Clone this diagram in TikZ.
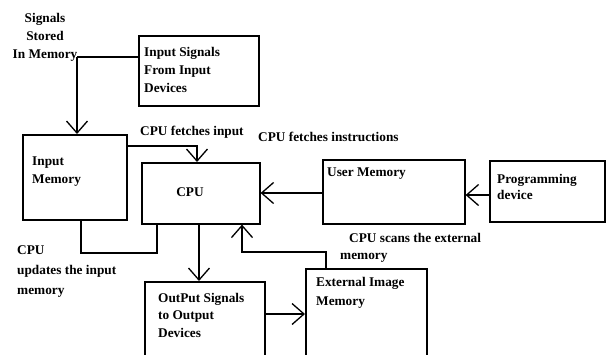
\documentclass[tikz,border=0pt]{standalone}
\usepackage{fontspec}
\setmainfont{Liberation Serif}
\usetikzlibrary{arrows.meta}
\begin{document}
\begin{tikzpicture}[x=1pt,y=-1pt,
  box/.style={draw, line width=1.6pt, inner sep=0pt, anchor=north west},
  conn/.style={line width=1.4pt},
  arr/.style={conn, -{Straight Barb[length=12pt,width=21pt,line width=1.3pt]}},
  lbl/.style={font=\bfseries\fontsize{13.3}{18}\selectfont, inner sep=0pt, align=left, anchor=north west}]
\useasboundingbox (0,0) rectangle (606,354);
\clip (0,0) rectangle (606,354);
% boxes
\node[box, minimum width=120pt, minimum height=70pt] (insig) at (138,35) {};
\node[box, minimum width=104pt, minimum height=85pt] (inmem) at (22,134) {};
\node[box, minimum width=118pt, minimum height=61pt] (cpu) at (141,162) {};
\node[box, minimum width=142pt, minimum height=64pt] (umem) at (322,159) {};
\node[box, minimum width=115pt, minimum height=61pt] (prog) at (489,160) {};
\node[box, minimum width=120pt, minimum height=100pt] (outsig) at (144,281) {};
\node[box, minimum width=121pt, minimum height=110pt] (ext) at (305,268) {};
% texts
\node[lbl, align=center, anchor=north] (tsig) at (45,13) {Signals\\Stored\\In Memory};
\node[lbl] (tinsig) at (144,47) {Input Signals\\From Input\\Devices};
\node[lbl] (tfin) at (140,126) {CPU fetches input};
\node[lbl] (tfinstr) at (258,132) {CPU fetches instructions};
\node[lbl] (tinmem) at (32,157) {Input\\Memory};
\node[font=\bfseries\fontsize{13.3}{18}\selectfont, inner sep=0pt] (tcpu) at (190,192) {CPU};
\node[lbl] (tumem) at (327,168) {User Memory};
\node[lbl, font=\bfseries\fontsize{13.3}{16}\selectfont] (tprog) at (497,174) {Programming\\device};
\node[lbl, font=\bfseries\fontsize{13.3}{20}\selectfont] (tupd) at (17,245) {CPU\\updates the input\\memory};
\node[lbl, font=\bfseries\fontsize{13.3}{17}\selectfont] (tscan) at (349,233) {CPU scans the external\\\hspace*{-9pt}memory};
\node[lbl, font=\bfseries\fontsize{13.3}{17.5}\selectfont] (toutsig) at (158,293) {OutPut Signals\\to Output\\Devices};
\node[lbl, font=\bfseries\fontsize{13.3}{19}\selectfont] (text) at (316,277) {External Image\\Memory};
% connectors
\coordinate (j1) at (77,57);
\draw[conn] (j1) -- (j1 -| insig.west);
\draw[arr] (j1) -- (j1 |- inmem.north);
\coordinate (j2) at (197,146);
\draw[arr] (j2 -| inmem.east) -- (j2) -- (j2 |- cpu.north);
\coordinate (j3) at (290,193);
\draw[arr] (j3 -| umem.west) -- (j3 -| cpu.east);
\coordinate (j4) at (476,195);
\draw[arr] (j4 -| prog.west) -- (j4 -| umem.east);
\coordinate (j5) at (157,253);
\coordinate (j6) at (81,253);
\draw[conn] (j5 |- cpu.south) -- (j5) -- (j6) -- (j6 |- inmem.south);
\coordinate (j7) at (199,250);
\draw[arr] (j7 |- cpu.south) -- (j7 |- outsig.north);
\coordinate (j8) at (326,252);
\coordinate (j9) at (242,252);
\draw[arr] (j8 |- ext.north) -- (j8) -- (j9) -- (j9 |- cpu.south);
\coordinate (j10) at (285,314);
\draw[arr] (j10 -| outsig.east) -- (j10 -| ext.west);
\end{tikzpicture}
\end{document}
